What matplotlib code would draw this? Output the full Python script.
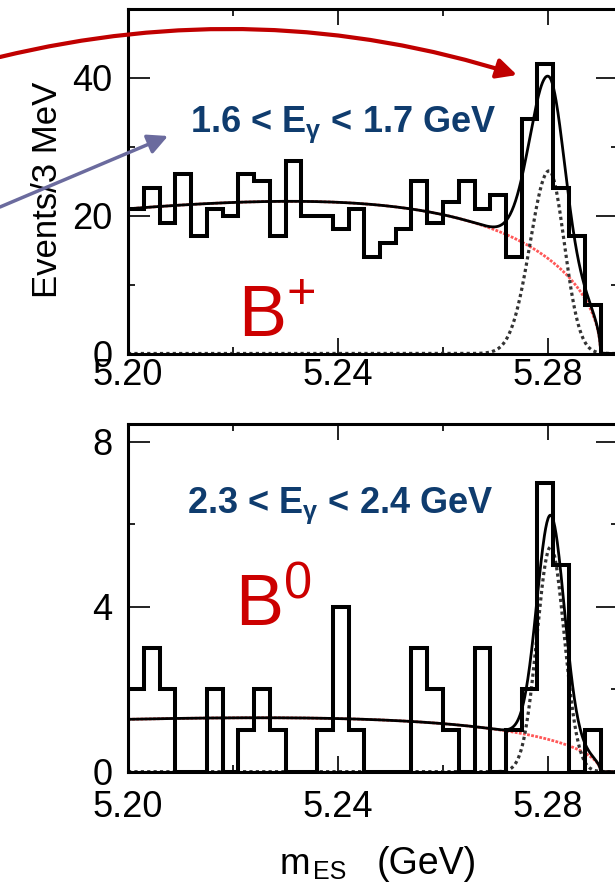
import numpy as np
import matplotlib
matplotlib.use('Agg')
import matplotlib.pyplot as plt
from matplotlib.patches import FancyArrowPatch
from matplotlib.ticker import FixedLocator

plt.rcParams['font.family'] = ['Liberation Sans', 'DejaVu Sans']
plt.rcParams['mathtext.fontset'] = 'custom'
plt.rcParams['mathtext.rm'] = 'Liberation Sans'
plt.rcParams['mathtext.it'] = 'Liberation Sans:italic'
plt.rcParams['mathtext.bf'] = 'Liberation Sans:bold'

W, H = 615, 882

# m_ES histograms, 3 MeV bins between 5.20 and 5.29 GeV
edges = np.round(np.linspace(5.200, 5.290, 31), 3)
counts_bplus = [21, 24, 19, 26, 17, 21, 20, 26, 25, 17, 28, 20, 20, 18, 21,
                14, 16, 18, 25, 19, 22, 25, 21, 23, 14, 34, 42, 24, 17, 7]
counts_bzero = [2, 3, 2, 0, 0, 2, 0, 1, 2, 1, 0, 0, 1, 4, 1,
                0, 0, 0, 3, 2, 1, 0, 3, 0, 1, 2, 7, 5, 0, 1]

# fit: ARGUS background (endpoint m0) + bifurcated gaussian signal
m0 = 5.29
bkg_bplus = [21.0, 22.0]      # value at 5.20, chi
bkg_bzero = [1.27, 20.0]
sig_bplus = [26.5, 5.2802, 0.0036, 0.0029]   # amp, mean, sigma low, sigma high
sig_bzero = [5.45, 5.2805, 0.0026, 0.0026]

egamma_bplus = r'1.6 < E$_{\mathregular{γ}}$ < 1.7 GeV'
egamma_bzero = r'2.3 < E$_{\mathregular{γ}}$ < 2.4 GeV'

xmax = 5.20 + 490 / 5250.


def argus(m, norm, chi):
    def shape(v):
        x = np.clip(v / m0, 0, 1)
        u = 1 - x ** 2
        return x * np.sqrt(u) * np.exp(-chi * u)
    return norm * shape(m) / shape(5.20)


def gauss(m, amp, mean, s_lo, s_hi):
    s = np.where(m < mean, s_lo, s_hi)
    return amp * np.exp(-0.5 * ((m - mean) / s) ** 2)


def draw_panel(ax, counts, bkg, sig, ymax, ymaj, ymin, xpad):
    m = np.linspace(5.20, xmax, 800)
    b = argus(m, *bkg)
    s = gauss(m, *sig)
    ax.plot(m, b, color='#ff2020', lw=2.0, ls=(0, (1, 0.5)), alpha=0.75, zorder=2)
    ax.plot(m, s, color='#333333', lw=2.3, ls=(0, (1, 1)), zorder=2.2)
    ax.stairs(counts, edges, color='black', lw=2.9, zorder=3)
    ax.plot(m, b + s, color='black', lw=2.0, zorder=4)

    ax.set_xlim(5.20, xmax)
    ax.set_ylim(0, ymax)
    ax.xaxis.set_major_locator(FixedLocator([5.20, 5.24, 5.28]))
    ax.xaxis.set_minor_locator(FixedLocator([5.22, 5.26]))
    ax.set_xticklabels(['5.20', '5.24', '5.28'])
    ax.yaxis.set_major_locator(FixedLocator(ymaj))
    ax.yaxis.set_minor_locator(FixedLocator(ymin))
    ax.set_yticklabels([str(v) for v in ymaj])
    ax.tick_params(which='both', direction='in', top=True, right=True,
                   width=1.4, color='#222222', labelsize=26)
    ax.tick_params(axis='x', which='major', length=11.5, pad=xpad)
    ax.tick_params(axis='x', which='minor', length=5)
    ax.tick_params(axis='y', which='major', length=16, pad=11)
    ax.tick_params(axis='y', which='minor', length=5)
    for sp in ax.spines.values():
        sp.set_linewidth(2.2)


fig = plt.figure(figsize=(W / 100, H / 100), dpi=100)
ax1 = fig.add_axes([128 / W, 1 - 353.5 / H, 490 / W, 344.5 / H])
ax2 = fig.add_axes([128 / W, 1 - 771.7 / H, 490 / W, 347.7 / H])

draw_panel(ax1, counts_bplus, bkg_bplus, sig_bplus, 50, [0, 20, 40], [10, 30], 3.5)
draw_panel(ax2, counts_bzero, bkg_bzero, sig_bzero, 8.43, [0, 4, 8], [2, 6], 13.5)

blue = '#0f3c6e'
red = '#cc0000'
fig.text(190 / W, 1 - 132 / H, egamma_bplus, fontsize=26, fontweight='bold',
         color=blue, va='baseline')
fig.text(187 / W, 1 - 513 / H, egamma_bzero, fontsize=26, fontweight='bold',
         color=blue, va='baseline')
fig.text(238 / W, 1 - 337 / H, r'B$^{\mathregular{+}}$', fontsize=52,
         color=red, va='baseline')
fig.text(235 / W, 1 - 625 / H, r'B$^{\mathregular{0}}$', fontsize=52,
         color=red, va='baseline')

fig.text(48 / W, 1 - 190 / H, 'Events/3 MeV', rotation=90, ha='center',
         va='center', fontsize=25)
# m_ES (GeV), subscript placed by hand
fig.text(280 / W, 1 - 874 / H, 'm', fontsize=26.5, va='baseline')
fig.text(313 / W, 1 - 879 / H, 'ES', fontsize=18, va='baseline')
fig.text(377 / W, 1 - 874 / H, '(GeV)', fontsize=27, va='baseline')

# arrows pointing in from the left
fig.add_artist(FancyArrowPatch(
    (0, 1 - 57 / H), (517 / W, 1 - 75 / H), transform=fig.transFigure,
    connectionstyle='arc3,rad=-0.14', arrowstyle='-|>,head_length=0.6,head_width=0.3',
    mutation_scale=20, color='#c00000', lw=3, shrinkA=0, shrinkB=0, zorder=10))
fig.add_artist(FancyArrowPatch(
    (0, 1 - 207 / H), (168 / W, 1 - 136 / H), transform=fig.transFigure,
    arrowstyle='-|>,head_length=0.6,head_width=0.3',
    mutation_scale=20, color='#6b6b9e', lw=2.5, shrinkA=0, shrinkB=0, zorder=10))

fig.savefig('out.png', dpi=100)
